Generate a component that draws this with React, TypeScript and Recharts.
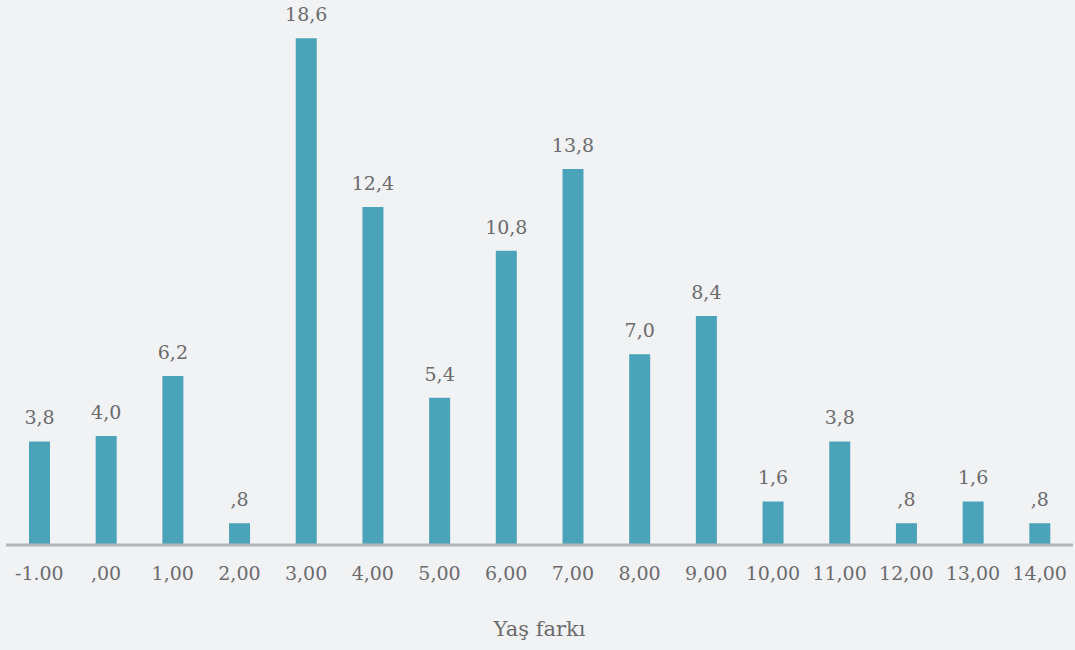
import React from 'react';
import { BarChart, Bar, XAxis, YAxis, LabelList } from 'recharts';

const categories = ['-1.00', ',00', '1,00', '2,00', '3,00', '4,00', '5,00', '6,00', '7,00', '8,00', '9,00', '10,00', '11,00', '12,00', '13,00', '14,00'];
const percents = [3.8, 4.0, 6.2, 0.8, 18.6, 12.4, 5.4, 10.8, 13.8, 7.0, 8.4, 1.6, 3.8, 0.8, 1.6, 0.8];

const data = categories.map((name, i) => ({ name, value: percents[i] }));

const FONT = '"DejaVu Serif", serif';
const TEXT = '#6b6b6d';

// SPSS style: 0.8 -> ",8", 3.8 -> "3,8"
const formatValue = (v: number) => {
  const s = v.toFixed(1).replace('.', ',');
  return s.startsWith('0,') ? s.slice(1) : s;
};

export default function App() {
  return (
    <div style={{ position: 'absolute', left: 0, top: 0, width: 1075, height: 650, background: '#f1f2f4' }}>
      <BarChart width={1075} height={650} data={data} margin={{ top: 0, right: 2, left: 6, bottom: 45 }} barCategoryGap="34%">
        <YAxis hide domain={[0, 20]} />
        <XAxis
          dataKey="name"
          height={60}
          interval={0}
          tickLine={false}
          tickSize={0}
          tickMargin={22}
          axisLine={{ stroke: '#b4b5b7', strokeWidth: 3 }}
          tick={{ fill: TEXT, fontSize: 19, fontFamily: FONT }}
          label={{ value: 'Yaş farkı', position: 'bottom', offset: 16, fill: TEXT, fontSize: 21, fontFamily: FONT }}
        />
        <Bar dataKey="value" fill="#4aa3b9" barSize={21} isAnimationActive={false}>
          <LabelList
            dataKey="value"
            position="top"
            offset={17}
            formatter={(v: any) => formatValue(Number(v))}
            style={{ fill: TEXT, fontSize: 19, fontFamily: FONT }}
          />
        </Bar>
      </BarChart>
    </div>
  );
}
